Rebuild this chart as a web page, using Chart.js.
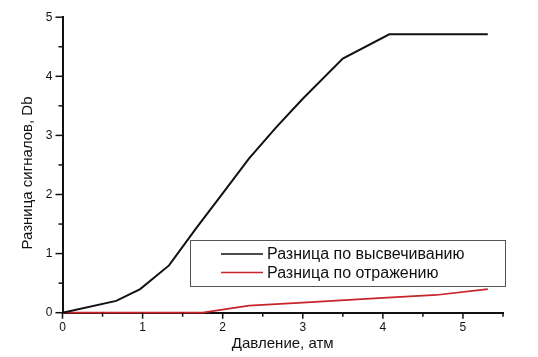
<!DOCTYPE html>
<html>
<head>
<meta charset="utf-8">
<script src="https://cdn.jsdelivr.net/npm/chart.js@4"></script>
<style>
  html, body { margin: 0; padding: 0; background: #fff; }
  #wrap { width: 538px; height: 357px; }
</style>
</head>
<body>
<div id="wrap"><canvas id="pressureChart" width="538" height="357"></canvas></div>
<script>
// pressure, atm
const glowPressure = [0, 0.67, 0.97, 1.33, 1.67, 2.0, 2.33, 2.67, 3.0, 3.5, 4.08, 5.31];
const glowDiff = [0, 0.2, 0.4, 0.8, 1.43, 2.02, 2.61, 3.14, 3.62, 4.3, 4.71, 4.71];
const reflPressure = [0, 1.75, 2.33, 3.0, 4.0, 4.67, 5.31];
const reflDiff = [0, 0, 0.12, 0.17, 0.25, 0.3, 0.4];
const seriesNames = ["Разница по высвечиванию", "Разница по отражению"];
const seriesColors = ["#111111", "#c8242a"];
const yTitle = "Разница сигналов, Db";
const xTitle = "Давление, атм";

const font = "'Liberation Sans', Arial, sans-serif";

const toPoints = (xs, ys) => xs.map((x, i) => ({ x, y: ys[i] }));

// minor/major ticks drawn outside the axes + rotated y title
const axisTicks = {
  id: "axisTicks",
  afterDraw(chart) {
    const c = chart.ctx;
    const { x, y } = chart.scales;
    c.save();
    c.strokeStyle = "#111";
    c.lineWidth = 1.5;
    x.ticks.forEach((t) => {
      const px = x.getPixelForValue(t.value);
      const len = Number.isInteger(t.value) ? 6 : 4;
      c.beginPath();
      c.moveTo(px, x.top);
      c.lineTo(px, x.top + len);
      c.stroke();
    });
    y.ticks.forEach((t) => {
      const py = y.getPixelForValue(t.value);
      const len = Number.isInteger(t.value) ? 7 : 4;
      c.beginPath();
      c.moveTo(y.right, py);
      c.lineTo(y.right - len, py);
      c.stroke();
    });

    c.translate(28, 173);
    c.rotate(-Math.PI / 2);
    c.font = "15px " + font;
    c.fillStyle = "#111";
    c.textAlign = "center";
    c.textBaseline = "middle";
    c.fillText(yTitle, 0, 0);
    c.restore();
  },
};

// legend box sitting inside the plot
const boxLegend = {
  id: "boxLegend",
  afterDraw(chart) {
    const c = chart.ctx;
    const left = 190, top = 240, w = 315, h = 46;
    c.save();
    c.fillStyle = "#fff";
    c.fillRect(left, top, w, h);
    c.strokeStyle = "#555";
    c.lineWidth = 1;
    c.strokeRect(left + 0.5, top + 0.5, w, h);
    c.font = "16px " + font;
    c.textBaseline = "middle";
    chart.data.datasets.forEach((ds, i) => {
      const rowY = top + 14 + i * 18.5;
      c.strokeStyle = ds.borderColor;
      c.lineWidth = 1.6;
      c.beginPath();
      c.moveTo(221, rowY);
      c.lineTo(263, rowY);
      c.stroke();
      c.fillStyle = "#111";
      c.fillText(ds.label, 267, rowY + 1);
    });
    c.restore();
  },
};

new Chart(document.getElementById("pressureChart"), {
  type: "line",
  data: {
    datasets: [
      {
        label: seriesNames[0],
        data: toPoints(glowPressure, glowDiff),
        borderColor: seriesColors[0],
        borderWidth: 2,
        pointRadius: 0,
        tension: 0,
        clip: false,
      },
      {
        label: seriesNames[1],
        data: toPoints(reflPressure, reflDiff),
        borderColor: seriesColors[1],
        borderWidth: 1.7,
        pointRadius: 0,
        tension: 0,
        clip: false,
      },
    ],
  },
  options: {
    responsive: false,
    animation: false,
    layout: { padding: { left: 0, right: 35, top: 10, bottom: 0 } },
    plugins: {
      legend: { display: false },
      tooltip: { enabled: false },
    },
    scales: {
      x: {
        type: "linear",
        min: 0,
        max: 5.5,
        afterFit: (s) => { s.height = 44.3; },
        grid: { display: false, drawTicks: false },
        border: { display: true, color: "#111", width: 2 },
        ticks: {
          stepSize: 0.5,
          autoSkip: false,
          maxRotation: 0,
          padding: 8,
          color: "#111",
          font: { family: font, size: 12 },
          callback: (v) => (Number.isInteger(v) ? String(v) : ""),
        },
        title: {
          display: true,
          text: xTitle,
          color: "#111",
          font: { family: font, size: 15 },
          padding: { top: 0, bottom: 4 },
        },
      },
      y: {
        min: 0,
        max: 5,
        afterFit: (s) => { s.width = 62.5; },
        grid: { display: false, drawTicks: false },
        border: { display: true, color: "#111", width: 2 },
        ticks: {
          stepSize: 0.5,
          autoSkip: false,
          padding: 10,
          color: "#111",
          font: { family: font, size: 12 },
          callback: (v) => (Number.isInteger(v) ? String(v) : ""),
        },
      },
    },
  },
  plugins: [axisTicks, boxLegend],
});
</script>
</body>
</html>
